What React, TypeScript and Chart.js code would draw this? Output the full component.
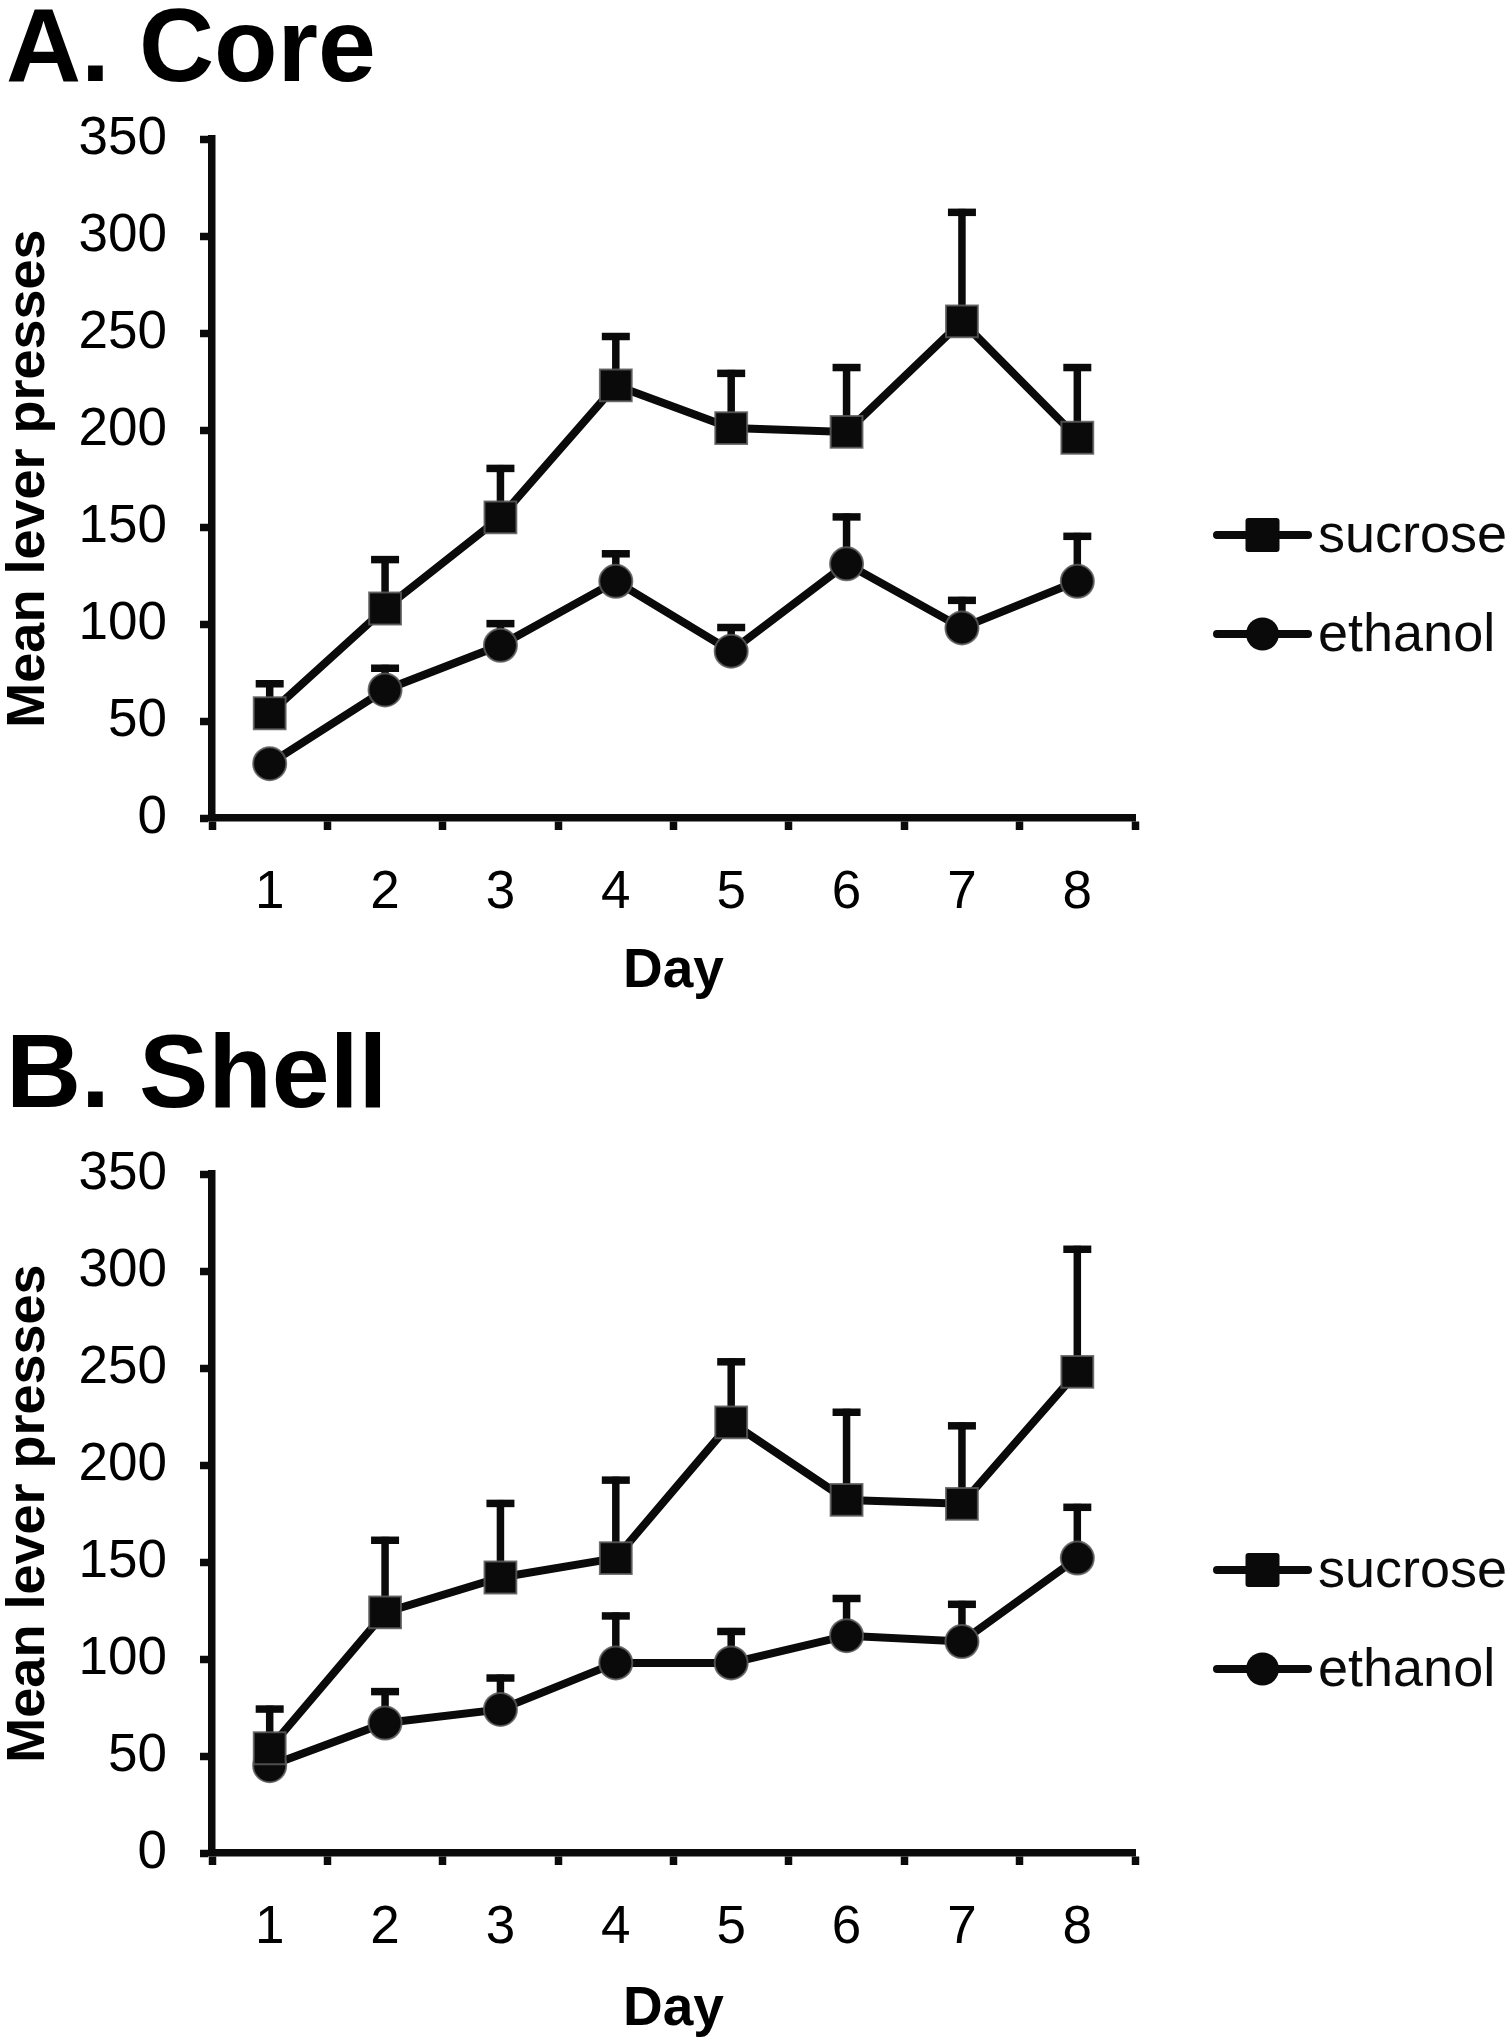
import React, { useEffect, useRef } from 'react';
import { Chart, registerables } from 'chart.js';

Chart.register(...registerables);

// ---- data ----
const days = ['1', '2', '3', '4', '5', '6', '7', '8'];
const yTickValues = [0, 50, 100, 150, 200, 250, 300, 350];
const seriesNames = ['sucrose', 'ethanol'];

const coreSucrose = [54, 108, 155, 223, 201, 199, 256, 196];
const coreSucroseErr = [17, 27, 27, 27, 30, 35, 58, 38];
const coreEthanol = [28, 66, 89, 122, 86, 131, 98, 122];
const coreEthanolErr = [5, 13, 13, 16, 14, 26, 16, 25];

const shellSucrose = [54, 124, 142, 152, 222, 182, 180, 248];
const shellSucroseErr = [22, 39, 40, 42, 33, 47, 42, 65];
const shellEthanol = [45, 67, 74, 98, 98, 112, 109, 152];
const shellEthanolErr = [5, 18, 18, 26, 18, 21, 21, 28];

const FONT = "'Liberation Sans', Arial, Helvetica, sans-serif";
const INK = '#0a0a0a';

const errorBarPlugin = {
  id: 'errorBars',
  beforeDatasetsDraw(chart: any) {
    const ctx = chart.ctx;
    const yScale = chart.scales.y;
    ctx.save();
    ctx.strokeStyle = INK;
    ctx.lineCap = 'butt';
    chart.data.datasets.forEach((ds: any, di: number) => {
      const meta = chart.getDatasetMeta(di);
      const errs: number[] = ds.errorBars || [];
      meta.data.forEach((pt: any, i: number) => {
        const v = ds.data[i];
        const e = errs[i] || 0;
        const yTop = yScale.getPixelForValue(v + e);
        ctx.lineWidth = 7.5;
        ctx.beginPath();
        ctx.moveTo(pt.x, pt.y);
        ctx.lineTo(pt.x, yTop);
        ctx.stroke();
        ctx.beginPath();
        ctx.moveTo(pt.x - 14, yTop + 3.5);
        ctx.lineTo(pt.x + 14, yTop + 3.5);
        ctx.stroke();
      });
    });
    ctx.restore();
  },
};

const sideLegendPlugin = {
  id: 'sideLegend',
  afterDraw(chart: any, _args: any, opts: any) {
    const ctx = chart.ctx;
    const top = chart.chartArea.top;
    ctx.save();
    chart.data.datasets.forEach((ds: any, i: number) => {
      const y = top + opts.offsets[i];
      const x0 = opts.lineStart;
      const x1 = opts.lineEnd;
      const xm = (x0 + x1) / 2;
      ctx.strokeStyle = INK;
      ctx.lineWidth = 8;
      ctx.lineCap = 'round';
      ctx.beginPath();
      ctx.moveTo(x0, y);
      ctx.lineTo(x1, y);
      ctx.stroke();
      ctx.fillStyle = INK;
      if (ds.pointStyle === 'rect') {
        const s = 34;
        ctx.beginPath();
        if (ctx.roundRect) ctx.roundRect(xm - s / 2, y - s / 2, s, s, 3);
        else ctx.rect(xm - s / 2, y - s / 2, s, s);
        ctx.fill();
      } else {
        ctx.beginPath();
        ctx.arc(xm, y, 16.5, 0, Math.PI * 2);
        ctx.fill();
      }
      ctx.font = `54px ${FONT}`;
      ctx.textAlign = 'left';
      ctx.textBaseline = 'middle';
      ctx.fillText(ds.label, opts.textX, y + 2);
    });
    ctx.restore();
  },
};

type PanelCfg = {
  title: string;
  sucrose: number[];
  sucroseErr: number[];
  ethanol: number[];
  ethanolErr: number[];
  titlePadTop: number;
  titlePadBottom: number;
  xAxisHeight: number;
  dayPadBottom: number;
};

function makeConfig(p: PanelCfg): any {
  return {
    type: 'line',
    data: {
      labels: days,
      datasets: [
        {
          label: seriesNames[0],
          data: p.sucrose,
          errorBars: p.sucroseErr,
          borderColor: INK,
          backgroundColor: INK,
          borderWidth: 8,
          tension: 0,
          pointStyle: 'rect',
          pointRadius: 22.5,
          pointBackgroundColor: INK,
          pointBorderColor: 'rgba(90,90,90,0.85)',
          pointBorderWidth: 2,
        },
        {
          label: seriesNames[1],
          data: p.ethanol,
          errorBars: p.ethanolErr,
          borderColor: INK,
          backgroundColor: INK,
          borderWidth: 8,
          tension: 0,
          pointStyle: 'circle',
          pointRadius: 16.5,
          pointBackgroundColor: INK,
          pointBorderColor: 'rgba(90,90,90,0.85)',
          pointBorderWidth: 2,
        },
      ],
    },
    options: {
      responsive: false,
      animation: false,
      events: [],
      devicePixelRatio: 1,
      layout: { padding: { left: 6, right: 377, top: 0, bottom: 0 } },
      plugins: {
        legend: { display: false },
        tooltip: { enabled: false },
        title: {
          display: true,
          text: p.title,
          align: 'start',
          color: '#000',
          font: { family: FONT, size: 104, weight: 'bold', lineHeight: 1 },
          padding: { top: p.titlePadTop, bottom: p.titlePadBottom },
        },
        sideLegend: { offsets: [396, 495], lineStart: 1217, lineEnd: 1308, textX: 1318 },
      },
      scales: {
        x: {
          type: 'category',
          offset: true,
          afterFit: (s: any) => {
            s.height = p.xAxisHeight;
          },
          grid: {
            offset: true,
            display: true,
            drawOnChartArea: false,
            drawTicks: true,
            tickLength: 12,
            tickWidth: 7.5,
            tickColor: INK,
            color: INK,
          },
          border: { display: true, color: INK, width: 7.5 },
          ticks: {
            color: '#000',
            padding: 32,
            maxRotation: 0,
            autoSkip: false,
            font: { family: FONT, size: 53 },
          },
          title: {
            display: true,
            text: 'Day',
            color: '#000',
            font: { family: FONT, size: 55, weight: 'bold', lineHeight: 1 },
            padding: { top: 0, bottom: p.dayPadBottom },
          },
        },
        y: {
          type: 'linear',
          min: 0,
          max: 350,
          afterBuildTicks: (s: any) => {
            s.ticks = yTickValues.map((v) => ({ value: v }));
          },
          afterFit: (s: any) => {
            s.width = 206;
          },
          grid: {
            display: true,
            drawOnChartArea: false,
            drawTicks: true,
            tickLength: 12,
            tickWidth: 7.5,
            tickColor: INK,
            color: INK,
          },
          border: { display: true, color: INK, width: 7.5 },
          ticks: {
            color: '#000',
            padding: 33,
            font: { family: FONT, size: 53 },
          },
          title: {
            display: true,
            text: 'Mean lever presses',
            color: '#000',
            font: { family: FONT, size: 54, weight: 'bold', lineHeight: 0.85 },
            padding: 0,
          },
        },
      },
    },
    plugins: [errorBarPlugin, sideLegendPlugin],
  };
}

const panels: PanelCfg[] = [
  {
    title: 'A. Core',
    sucrose: coreSucrose,
    sucroseErr: coreSucroseErr,
    ethanol: coreEthanol,
    ethanolErr: coreEthanolErr,
    titlePadTop: 0,
    titlePadBottom: 35,
    xAxisHeight: 202,
    dayPadBottom: 21,
  },
  {
    title: 'B. Shell',
    sucrose: shellSucrose,
    sucroseErr: shellSucroseErr,
    ethanol: shellEthanol,
    ethanolErr: shellEthanolErr,
    titlePadTop: 6,
    titlePadBottom: 44,
    xAxisHeight: 187,
    dayPadBottom: 3,
  },
];

function Panel({ cfg }: { cfg: PanelCfg }) {
  const ref = useRef<HTMLCanvasElement>(null);
  useEffect(() => {
    if (!ref.current) return;
    const chart = new Chart(ref.current, makeConfig(cfg));
    return () => chart.destroy();
  }, [cfg]);
  return (
    <canvas
      ref={ref}
      width={1512}
      height={1020}
      style={{ display: 'block', width: 1512, height: 1020 }}
    />
  );
}

export default function App() {
  return (
    <div style={{ position: 'absolute', left: 0, top: 0, width: 1512, background: '#fff' }}>
      {panels.map((p) => (
        <Panel key={p.title} cfg={p} />
      ))}
    </div>
  );
}
